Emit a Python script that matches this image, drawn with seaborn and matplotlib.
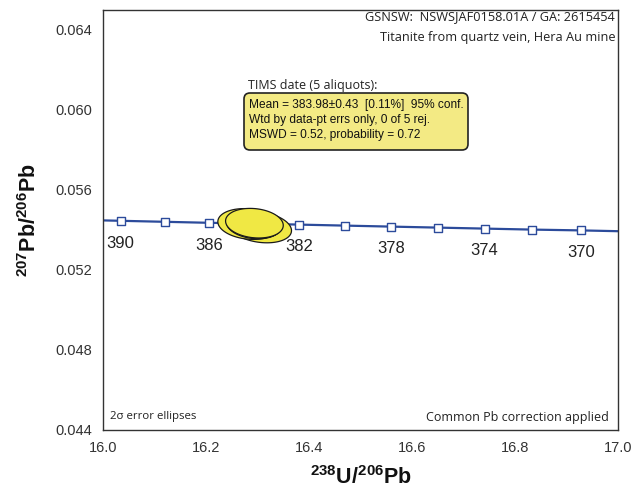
import numpy as np
import pandas as pd
import matplotlib
matplotlib.use("Agg")
import matplotlib.pyplot as plt
import seaborn as sns
from matplotlib.patches import FancyBboxPatch
from matplotlib.transforms import IdentityTransform

# ---- data ----
ages = [390, 388, 386, 384, 382, 380, 378, 376, 374, 372, 370]
conc_x = [16.0343, 16.1195, 16.2055, 16.2924, 16.3803, 16.4692,
          16.5589, 16.6497, 16.7411, 16.8339, 16.9276]
conc_y = [0.05446, 0.05441, 0.05436, 0.05432, 0.05427, 0.05422,
          0.05417, 0.05412, 0.05407, 0.05402, 0.05398]
line_x = [16.0] + conc_x + [17.0]
line_y = [0.05448] + conc_y + [0.05394]
label_ages = [390, 386, 382, 378, 374, 370]

ell_cx = [16.305, 16.283, 16.292, 16.296, 16.294]
ell_cy = [0.05414, 0.05430, 0.05424, 0.05426, 0.05434]
ell_sx = [0.061, 0.060, 0.052, 0.050, 0.0560]
ell_sy = [0.00078, 0.00077, 0.00068, 0.00066, 0.00074]
ell_rho = [-0.22, -0.15, -0.18, -0.18, -0.15]

x_ticks = [16.0, 16.2, 16.4, 16.6, 16.8, 17.0]
y_ticks = [0.044, 0.048, 0.052, 0.056, 0.060, 0.064]

info_title = "TIMS date (5 aliquots):"
info_lines = ["Mean = 383.98\u00b10.43  [0.11%]  95% conf.",
              "Wtd by data-pt errs only, 0 of 5 rej.",
              "MSWD = 0.52, probability = 0.72"]
header_lines = ["GSNSW:  NSWSJAF0158.01A / GA: 2615454",
                "Titanite from quartz vein, Hera Au mine"]

# ---- style ----
sns.set_theme(style="white")
plt.rcParams["font.family"] = ["Liberation Sans", "DejaVu Sans"]
plt.rcParams["mathtext.fontset"] = "custom"
plt.rcParams["mathtext.bf"] = "Liberation Sans:bold"
plt.rcParams["mathtext.rm"] = "Liberation Sans"

W, H = 641, 497
fig = plt.figure(figsize=(W / 100, H / 100), dpi=100)
ax = fig.add_axes([103 / W, 1 - 430 / H, 515 / W, 420 / H])

blue = "#2c4b9b"
df_line = pd.DataFrame({"x": line_x, "y": line_y})
sns.lineplot(data=df_line, x="x", y="y", ax=ax, color=blue, lw=1.6,
             sort=False, zorder=2)
df_pts = pd.DataFrame({"x": conc_x, "y": conc_y, "age": ages})
sns.scatterplot(data=df_pts, x="x", y="y", ax=ax, marker="s", s=28,
                color="white", edgecolor=blue, linewidth=1.0, zorder=3)

for a in label_ages:
    i = ages.index(a)
    ax.annotate(str(a), (conc_x[i], conc_y[i]), xytext=(0, -16),
                textcoords="offset points", ha="center", va="center",
                fontsize=12, color="#222222", zorder=3)

theta = np.linspace(0, 2 * np.pi, 300)
for k in range(len(ell_cx)):
    r = ell_rho[k]
    ex = ell_cx[k] + ell_sx[k] * np.cos(theta)
    ey = ell_cy[k] + ell_sy[k] * (r * np.cos(theta) + np.sqrt(1 - r * r) * np.sin(theta))
    ax.fill(ex, ey, facecolor="#f0e844", edgecolor="#1a1a1a", lw=0.9, zorder=5 + k)

ax.set_xlim(16.0, 17.0)
ax.set_ylim(0.044, 0.065)
ax.set_xticks(x_ticks)
ax.set_xticklabels([f"{v:.1f}" for v in x_ticks])
ax.set_xticks(np.arange(16.1, 17.0, 0.2), minor=True)
ax.set_yticks(y_ticks)
ax.set_yticklabels([f"{v:.3f}" for v in y_ticks])
ax.set_yticks(np.arange(0.046, 0.065, 0.004), minor=True)
ax.tick_params(which="both", direction="in", length=5, width=0.9,
               color="#333333", labelsize=10.5, labelcolor="#333333")
ax.tick_params(axis="x", pad=8)
ax.tick_params(axis="y", pad=8)
for s in ax.spines.values():
    s.set_color("#333333")
    s.set_linewidth(1.0)

ax.set_xlabel(r"$^{\mathbf{238}}\mathbf{U/}^{\mathbf{206}}\mathbf{Pb}$",
              fontsize=15.5, color="#111111", labelpad=8)
ax.set_ylabel(r"$^{\mathbf{207}}\mathbf{Pb/}^{\mathbf{206}}\mathbf{Pb}$",
              fontsize=15.5, color="#111111", labelpad=10)

hfont = ["Open Sans", "DejaVu Sans"]
# header text (top right)
fig.text(615 / W, 1 - 17 / H, header_lines[0], ha="right", va="center",
         fontsize=9.2, family=hfont, color="#222222")
fig.text(615 / W, 1 - 37 / H, header_lines[1], ha="right", va="center",
         fontsize=9.2, family=hfont, color="#222222")

# bottom notes
fig.text(110 / W, 1 - 417 / H, "2\u03c3 error ellipses", ha="left", va="center",
         fontsize=8.2, family=hfont, color="#222222")
fig.text(609 / W, 1 - 417 / H, "Common Pb correction applied", ha="right",
         va="center", fontsize=9.0, family=hfont, color="#222222")

# info box
box = FancyBboxPatch((244, H - 150), 224, 57,
                     boxstyle="round,pad=0,rounding_size=6",
                     transform=IdentityTransform(), facecolor="#f3ea84",
                     edgecolor="#222222", lw=1.2, zorder=10)
fig.add_artist(box)
fig.text(248 / W, 1 - 85 / H, info_title, ha="left", va="center",
         fontsize=9, family=hfont, color="#222222")
for j, t in enumerate(info_lines):
    fig.text(249 / W, 1 - (105 + 15 * j) / H, t, ha="left", va="center",
             fontsize=8.6, color="#111111", zorder=11)

fig.savefig("out.png", dpi=100)
